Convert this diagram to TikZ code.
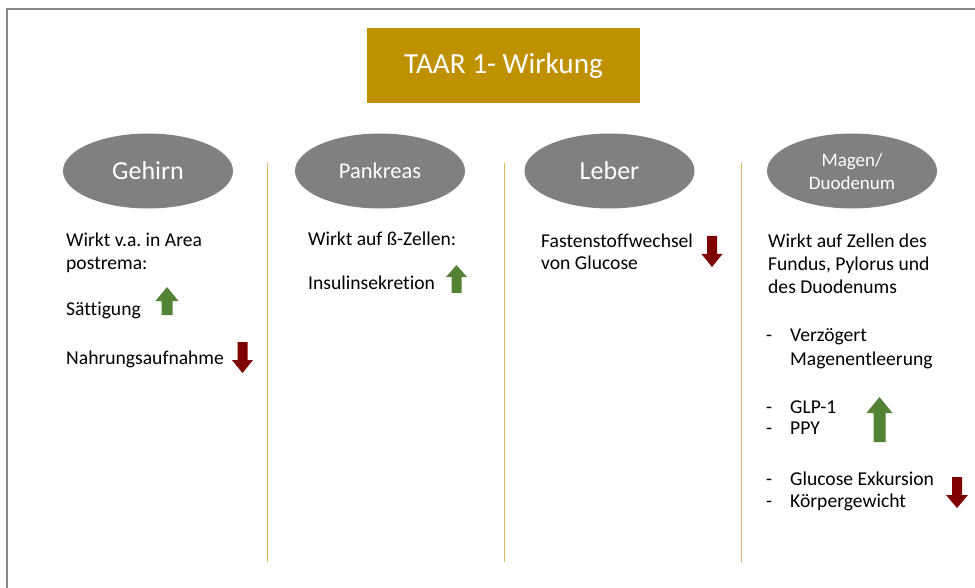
\documentclass[tikz,border=0pt]{standalone}
\usepackage{fontspec}
\setmainfont{Carlito}[Ligatures={NoCommon}]
\usetikzlibrary{shapes.geometric}
\frenchspacing
\definecolor{titlec}{HTML}{BF9000}
\definecolor{ellc}{HTML}{808080}
\definecolor{upc}{HTML}{548235}
\definecolor{downc}{HTML}{7F0000}
\definecolor{sepc}{HTML}{D9B85E}
\definecolor{framec}{HTML}{888888}
\newcommand\myuparrow[6]{\fill[upc] (#1-#5/2,#3) -- (#1-#5/2,#2+#6) -- (#1-#4/2,#2+#6) -- (#1,#2) -- (#1+#4/2,#2+#6) -- (#1+#5/2,#2+#6) -- (#1+#5/2,#3) -- cycle;}
\newcommand\mydownarrow[6]{\fill[downc] (#1-#5/2,#2) -- (#1-#5/2,#3-#6) -- (#1-#4/2,#3-#6) -- (#1,#3) -- (#1+#4/2,#3-#6) -- (#1+#5/2,#3-#6) -- (#1+#5/2,#2) -- cycle;}
\tikzset{
  organ/.style={ellipse, fill=ellc, minimum width=170pt, minimum height=75pt, inner sep=0pt, text=white, align=center},
  body/.style={anchor=base west, inner sep=0pt, text=black, font=\fontsize{19.6}{23}\selectfont\frenchspacing},
  sep/.style={draw=sepc, line width=1pt},
}
\begin{document}
\begin{tikzpicture}[x=1pt,y=-1pt]
\useasboundingbox (0,0) rectangle (975,588);
\draw[framec, line width=2pt] (7,588) -- (7,9) -- (975,9);
% title
\node[fill=titlec, minimum width=273pt, minimum height=75pt, inner sep=0pt, text=white, font=\fontsize{29.2}{34}\selectfont] (title) at (503.5,65.5) {TAAR 1- Wirkung};
% organs
\node[organ, font=\fontsize{26}{30}\selectfont] (gehirn) at (148,171) {Gehirn};
\node[organ, font=\fontsize{22.5}{27}\selectfont] (pankreas) at (380,171) {Pankreas};
\node[organ, font=\fontsize{26}{30}\selectfont] (leber) at (609.5,171) {Leber};
\node[organ, font=\fontsize{19}{23}\selectfont] (magen) at (852,171) {Magen/\\Duodenum};
% separators
\coordinate (s1t) at (267,163); \coordinate (s1b) at (267,562);
\coordinate (s2t) at (504,163); \coordinate (s2b) at (504,562);
\coordinate (s3t) at (741,163); \coordinate (s3b) at (741,562);
\draw[sep] (s1t) -- (s1b);
\draw[sep] (s2t) -- (s2b);
\draw[sep] (s3t) -- (s3b);
% column 1
\node[body] (g1) at (66,247) {Wirkt v.a. in Area};
\node[body] (g2) at (66,270) {postrema:};
\node[body] (g3) at (66,316) {Sättigung};
\node[body] (g4) at (66,364) {Nahrungsaufnahme};
% column 2
\node[body] (p1) at (308,246) {Wirkt auf ß-Zellen:};
\node[body] (p2) at (308,290) {Insulinsekretion};
% column 3
\node[body] (l1) at (541,248) {Fastenstoffwechsel};
\node[body] (l2) at (541,270) {von Glucose};
% column 4
\node[body] (m1) at (768,248) {Wirkt auf Zellen des};
\node[body] (m2) at (768,271) {Fundus, Pylorus und};
\node[body] (m3) at (768,294) {des Duodenums};
\node[body] (d1) at (766,341) {-};
\node[body] (m4) at (790,341) {Verzögert};
\node[body] (m5) at (790,365) {Magenentleerung};
\node[body] (d2) at (766,413) {-};
\node[body] (m6) at (790,413) {GLP-1};
\node[body] (d3) at (766,434) {-};
\node[body] (m7) at (790,434) {PPY};
\node[body] (d4) at (766,485) {-};
\node[body] (m8) at (790,485) {Glucose Exkursion};
\node[body] (d5) at (766,507) {-};
\node[body] (m9) at (790,507) {Körpergewicht};
% arrows
\myuparrow{167}{287}{315}{23}{11}{14}
\mydownarrow{242.5}{342}{373}{21}{10}{13}
\myuparrow{456.5}{265}{293}{21}{10}{12}
\mydownarrow{712}{236}{267}{21}{10}{13}
\myuparrow{879.5}{397}{442}{26}{12}{16}
\mydownarrow{957}{477}{508}{22}{10}{13}
\end{tikzpicture}
\end{document}
